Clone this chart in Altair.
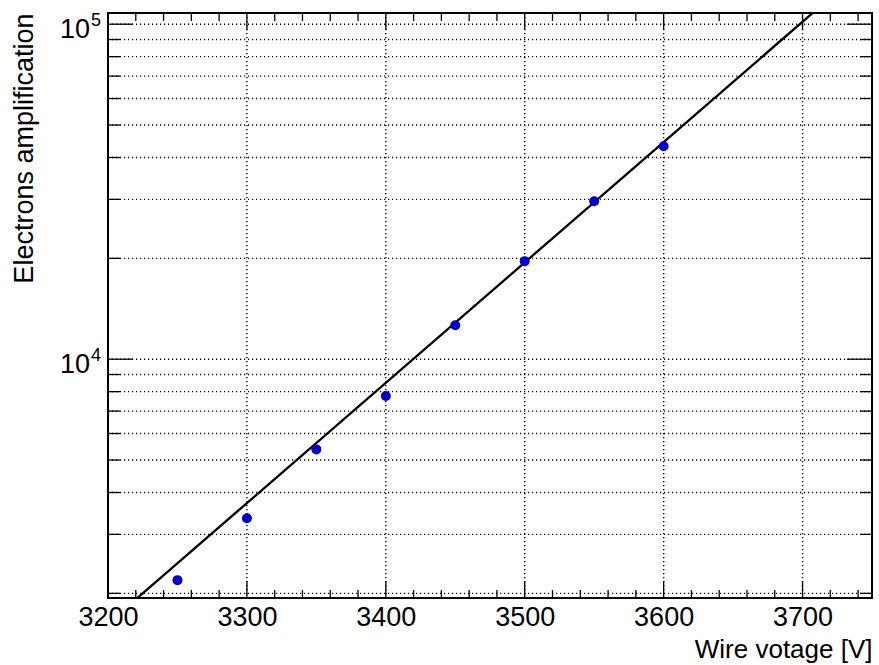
import math
import altair as alt
import pandas as pd

# Measured gas gain versus wire voltage
voltage = [3250, 3300, 3350, 3400, 3450, 3500, 3550, 3600]
amplification = [2190, 3350, 5380, 7760, 12630, 19600, 29600, 43200]

# Exponential fit: A = exp(p0 + p1 * V)
fit_p0 = -19.073
fit_p1 = 0.008271

x_domain = [3200, 3750]
y_domain = [1937, 108000]

x_major = [3200, 3300, 3400, 3500, 3600, 3700]
x_minor = [v for v in range(3220, 3750, 20) if v % 100 != 0]
y_major = [1e4, 1e5]
y_minor = [2000, 3000, 4000, 5000, 6000, 7000, 8000, 9000,
           20000, 30000, 40000, 50000, 60000, 70000, 80000, 90000]
y_label_base = ["10", "10"]
y_label_exp = ["4", "5"]

W, H = 764, 585
FONT = "Liberation Sans"
FS = 27

xs = alt.Scale(domain=x_domain, nice=False, zero=False)
ys = alt.Scale(type="log", domain=y_domain, nice=False)

x_axis = alt.Axis(
    values=x_major, format="d", labelFont=FONT, labelFontSize=FS,
    labelColor="black", ticks=False, tickSize=0, domain=False, grid=False,
    labelBaseline="alphabetic", labelPadding=27,
    labelFlush=False, labelOverlap=False, labelBound=False,
    title="Wire votage [V]", titleFont=FONT, titleFontSize=26,
    titleFontWeight="normal", titleColor="black", titleAlign="right",
    titleAnchor="end", titleX=W, titleY=59, titleBaseline="alphabetic",
)
y_axis = alt.Axis(
    labels=False, ticks=False, domain=False, grid=False,
    title="Electrons amplification", titleFont=FONT, titleFontSize=FS,
    titleFontWeight="normal", titleColor="black", titleAngle=-90,
    titleAlign="right", titleX=-76, titleY=0, titleBaseline="alphabetic",
)

X = lambda: alt.X("V:Q", scale=xs, axis=x_axis)
Y = lambda: alt.Y("A:Q", scale=ys, axis=y_axis)

xgrid_df = pd.DataFrame({"V": [v for v in x_major if v != x_domain[0]]})
ygrid_df = pd.DataFrame({"A": y_minor + y_major})
xmaj_df = pd.DataFrame({"V": x_major})
xmin_df = pd.DataFrame({"V": x_minor})
ymaj_df = pd.DataFrame({"A": y_major})
ymin_df = pd.DataFrame({"A": y_minor})

dot = dict(color="black", strokeWidth=1.4, strokeDash=[1.2, 2.8])
tick = dict(color="black", strokeWidth=1.3)

grid_x = alt.Chart(xgrid_df).mark_rule(**dot).encode(
    x=X(), y=alt.value(0), y2=alt.value(H))
grid_y = alt.Chart(ygrid_df).mark_rule(**dot).encode(
    y=Y(), x=alt.value(0), x2=alt.value(W))


def xticks(df, length):
    bottom = alt.Chart(df).mark_rule(**tick).encode(
        x=X(), y=alt.value(H), y2=alt.value(H - length))
    top = alt.Chart(df).mark_rule(**tick).encode(
        x=X(), y=alt.value(0), y2=alt.value(length))
    return [bottom, top]


def yticks(df, length):
    left = alt.Chart(df).mark_rule(**tick).encode(
        y=Y(), x=alt.value(0), x2=alt.value(length))
    right = alt.Chart(df).mark_rule(**tick).encode(
        y=Y(), x=alt.value(W), x2=alt.value(W - length))
    return [left, right]


fit_df = pd.DataFrame({
    "V": x_domain,
    "A": [math.exp(fit_p0 + fit_p1 * v) for v in x_domain],
})
fit_line = alt.Chart(fit_df).mark_line(
    clip=True, color="black", strokeWidth=2.3).encode(x=X(), y=Y())

points_df = pd.DataFrame({"V": voltage, "A": amplification})
points = alt.Chart(points_df).mark_circle(
    size=100, color="#0000cc", opacity=1).encode(x=X(), y=Y())

ylab_df = pd.DataFrame({"A": y_major, "base": y_label_base, "exp": y_label_exp})
ylab_base = alt.Chart(ylab_df).mark_text(
    align="right", baseline="alphabetic", font=FONT, fontSize=FS,
    color="black", dy=14).encode(y=Y(), x=alt.value(-18), text="base:N")
ylab_exp = alt.Chart(ylab_df).mark_text(
    align="left", baseline="alphabetic", font=FONT, fontSize=18,
    color="black", dy=2).encode(y=Y(), x=alt.value(-17), text="exp:N")

layers = [grid_x, grid_y]
layers += xticks(xmaj_df, 17) + xticks(xmin_df, 8)
layers += yticks(ymaj_df, 25) + yticks(ymin_df, 12)
layers += [fit_line, points, ylab_base, ylab_exp]

chart = alt.layer(*layers).properties(
    width=W, height=H,
    autosize=alt.AutoSizeParams(type="none"),
    padding={"left": 108, "top": 13, "right": 7, "bottom": 67},
    background="white",
).configure_view(stroke="black", strokeWidth=2)

chart.save("out.html", embed_options={"renderer": "svg", "actions": False})
